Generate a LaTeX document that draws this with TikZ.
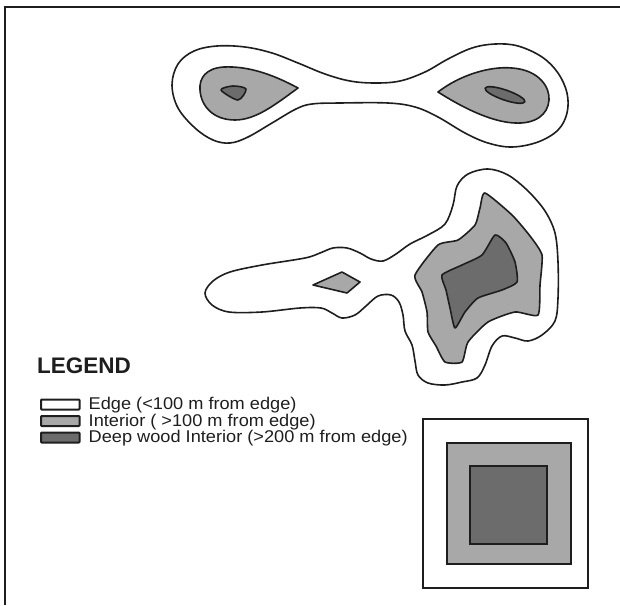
\documentclass[tikz,border=0pt]{standalone}
\usepackage{fontspec}
\setmainfont{Liberation Sans}
\definecolor{lightg}{HTML}{A8A8A8}
\definecolor{darkg}{HTML}{6C6C6C}
\definecolor{inkc}{HTML}{1E1E1E}
\newcommand{\legstretch}[1]{\scalebox{1.07}[1]{#1}}
\begin{document}
\begin{tikzpicture}[x=1pt,y=-1pt,
  contour/.style={draw=inkc, line width=1.6pt, line join=round},
  edgefill/.style={contour, fill=white},
  intfill/.style={contour, fill=lightg},
  deepfill/.style={contour, fill=darkg},
  sqline/.style={draw=inkc, line width=2pt},
  legbox/.style={draw=inkc, line width=2pt, rounded corners=0.8pt},
  legtext/.style={anchor=base west, inner sep=0pt, font=\fontsize{17}{18}\selectfont, text=inkc},
]
\useasboundingbox (0,0) rectangle (620,605);
% frame
\draw[line width=2pt, draw=inkc] (5,605) -- (5,7) -- (620,7);

% ---------- top figure-eight woodlot ----------
\draw[edgefill] plot[smooth cycle, tension=0.6] coordinates {
  (172,85) (178,64) (194,51) (217,46) (245,47) (272,53) (298,63) (325,74)
  (350,81) (375,83) (400,81) (425,72) (448,59) (472,48) (495,44) (518,46)
  (542,57) (558,73) (567,93) (567,113) (558,130) (538,142) (512,147)
  (488,143) (465,133) (438,117) (415,107) (388,103) (340,103) (312,104)
  (296,109) (272,123) (248,137) (230,143) (213,140) (195,128) (178,108)};
\draw[intfill] (298,88) .. controls (272,74) and (248,66) .. (224,67)
  .. controls (206,68) and (199,78) .. (200,90)
  .. controls (201,106) and (213,120) .. (235,120)
  .. controls (256,120) and (276,104) .. cycle;
\draw[deepfill] plot[smooth cycle, tension=0.5] coordinates {
  (221,90) (233,86) (246,89) (238,100)};
\draw[intfill] (438,92) .. controls (460,75) and (490,66) .. (512,68)
  .. controls (540,70) and (550,88) .. (549,100)
  .. controls (548,115) and (535,124) .. (515,123)
  .. controls (490,122) and (460,106) .. cycle;
\draw[deepfill, rotate around={-19:(505,95)}] (505,95) ellipse[x radius=21pt, y radius=5pt];

% ---------- middle woodlot ----------
\draw[edgefill] plot[smooth cycle, tension=0.55] coordinates {
  (205,293) (213,281) (230,272) (262,265) (305,258) (320,253) (333,248)
  (347,248) (360,253) (371,259) (383,261) (396,254) (410,244) (428,235)
  (445,224) (453,205) (457,186) (468,174) (488,169) (508,175) (528,191)
  (545,211) (555,233) (558,262) (558,298) (555,321) (542,335) (528,341)
  (515,338) (502,336) (492,346) (485,365) (477,378) (462,382) (445,385)
  (428,383) (418,375) (415,361) (412,345) (405,331) (403,315) (399,302)
  (391,295) (378,296) (366,306) (355,315) (342,318) (332,313) (321,308)
  (300,308) (262,312) (229,312) (212,305)};
\draw[intfill] (313,285) -- (342,272) -- (360,282) -- (347,293) -- cycle;
\draw[intfill] plot[smooth cycle, tension=0.35] coordinates {
  (415,275) (438,245) (458,240) (475,225) (480,208) (485,193) (512,215)
  (530,236) (542,255) (540,285) (538,315) (515,312) (488,322) (468,342)
  (462,362) (445,362) (436,346) (428,332) (427,312) (422,292)};
\draw[deepfill] plot[smooth cycle, tension=0.35] coordinates {
  (442,275) (462,265) (482,255) (495,235) (506,243) (515,262) (517,282)
  (502,290) (478,298) (465,312) (455,328) (450,308) (446,290)};

% ---------- square woodlot ----------
\draw[sqline, fill=white] (423,419) rectangle (588,588);
\draw[sqline, fill=lightg] (447,443) rectangle (571,564);
\draw[sqline, fill=darkg] (470,466) rectangle (547,544);

% ---------- legend ----------
\node[anchor=base west, inner sep=0pt, font=\fontsize{22.5}{24}\selectfont\bfseries, text=inkc] (legtitle) at (37,373) {LEGEND};
\draw[legbox, fill=white] (41,399.5) rectangle (79.5,409.5);
\draw[legbox, fill=lightg] (41,416) rectangle (79.5,426);
\draw[legbox, fill=darkg] (41,432.5) rectangle (79.5,442.5);
\node[legtext] (leg1) at (88.5,409.5) {\legstretch{Edge (<100 m from edge)}};
\node[legtext] (leg2) at (88.5,426) {\legstretch{Interior ( >100 m from edge)}};
\node[legtext] (leg3) at (88.5,442.5) {\legstretch{Deep wood Interior (>200 m from edge)}};
\end{tikzpicture}
\end{document}
